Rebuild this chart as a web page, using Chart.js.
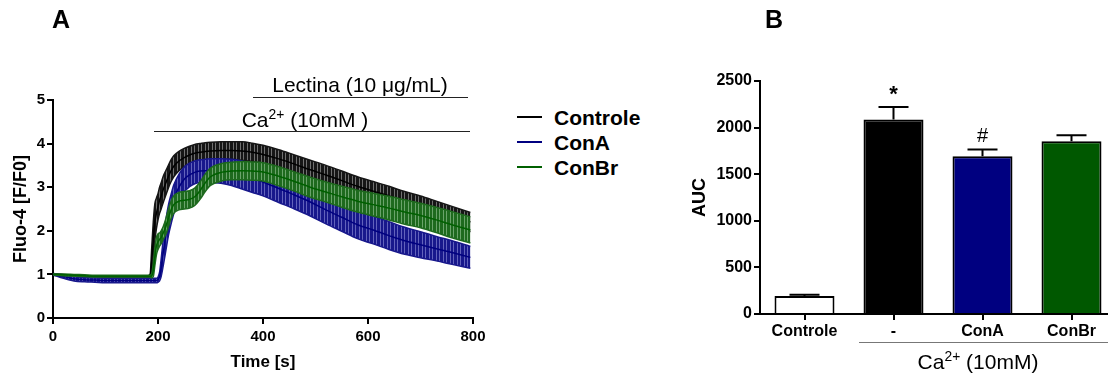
<!DOCTYPE html>
<html>
<head>
<meta charset="utf-8">
<script src="https://cdn.jsdelivr.net/npm/chart.js@4.4.1/dist/chart.umd.min.js"></script>
<style>
  html, body { margin:0; padding:0; background:#fff; }
  body { width:1108px; height:376px; overflow:hidden; position:relative;
         font-family:"Liberation Sans", Arial, sans-serif; color:#000; }
  .abs { position:absolute; white-space:nowrap; line-height:1; }
  .ctr { transform:translateX(-50%); }
  .rule { position:absolute; height:1px; }
  sup { font-size:0.66em; line-height:0; vertical-align:0.58em; }
  canvas { position:absolute; top:0; }
  .leg { position:absolute; left:517px; font-weight:bold; font-size:21px; line-height:1; white-space:nowrap; }
  .leg i { position:absolute; left:0; width:25px; height:2px; }
  .leg span { position:absolute; left:37px; top:0; }
</style>
</head>
<body>
<canvas id="fluoChart" width="500" height="376" style="left:0"></canvas>
<canvas id="aucChart" width="440" height="376" style="left:680px"></canvas>

<div class="abs" style="left:52px;top:7px;font-size:25px;font-weight:bold">A</div>
<div class="abs" style="left:765px;top:7px;font-size:25px;font-weight:bold">B</div>

<div class="abs ctr" style="left:360px;top:74px;font-size:21px">Lectina (10 &mu;g/mL)</div>
<div class="rule" style="left:253px;width:215px;top:97px;background:#222"></div>
<div class="abs ctr" style="left:305px;top:109px;font-size:21px">Ca<sup>2+</sup> (10mM )</div>
<div class="rule" style="left:154px;width:316px;top:131px;background:#222"></div>

<div id="legend"></div>

<div class="rule" style="left:859px;width:260px;top:342px;background:#777"></div>
<div class="abs ctr" style="left:978px;top:351px;font-size:21px">Ca<sup>2+</sup> (10mM)</div>

<script>
// Fluo-4 time course: sample times (s), mean F/F0 and SEM per group
const timeS = [0,20,40,60,80,100,120,140,160,180,
               185,188,191,194,197,200,203,206,210,215,
               220,225,230,240,250,260,270,280,290,300,
               320,340,360,380,400,430,460,490,520,550,
               580,610,640,670,700,730,760,795];

const controleMean = [1.00,0.98,0.96,0.95,0.94,0.94,0.94,0.94,0.94,0.94,
                      0.96,1.30,1.80,2.20,2.40,2.55,2.70,2.80,2.95,3.10,
                      3.25,3.38,3.48,3.60,3.68,3.74,3.78,3.80,3.82,3.83,
                      3.84,3.84,3.83,3.80,3.75,3.65,3.53,3.40,3.28,3.15,
                      3.02,2.91,2.80,2.68,2.58,2.46,2.34,2.20];
const controleSem  = [0.02,0.02,0.02,0.02,0.02,0.02,0.02,0.02,0.02,0.03,
                      0.05,0.30,0.40,0.42,0.35,0.30,0.30,0.30,0.30,0.28,
                      0.26,0.25,0.24,0.22,0.21,0.20,0.20,0.20,0.20,0.20,
                      0.20,0.20,0.21,0.21,0.21,0.21,0.21,0.22,0.22,0.22,
                      0.22,0.22,0.22,0.22,0.22,0.22,0.22,0.22];

const conAMean = [1.00,0.95,0.90,0.88,0.87,0.86,0.86,0.86,0.86,0.86,
                  0.86,0.86,0.86,0.86,0.86,0.88,0.95,1.15,1.50,1.90,
                  2.25,2.50,2.72,3.00,3.18,3.28,3.34,3.37,3.38,3.38,
                  3.37,3.34,3.28,3.20,3.12,2.97,2.82,2.66,2.48,2.31,
                  2.14,2.02,1.89,1.77,1.68,1.59,1.50,1.39];
const conASem  = [0.01,0.04,0.05,0.05,0.05,0.05,0.05,0.05,0.05,0.05,
                  0.05,0.05,0.05,0.05,0.05,0.06,0.10,0.20,0.30,0.35,
                  0.35,0.34,0.33,0.30,0.28,0.27,0.26,0.26,0.26,0.27,
                  0.28,0.30,0.32,0.32,0.32,0.32,0.32,0.32,0.32,0.32,
                  0.32,0.32,0.32,0.31,0.30,0.28,0.27,0.25];

const conBrMean = [1.00,0.99,0.98,0.97,0.96,0.96,0.96,0.96,0.96,0.96,
                   0.96,0.97,1.10,1.40,1.65,1.75,1.80,1.85,1.95,2.10,
                   2.30,2.48,2.60,2.68,2.70,2.72,2.78,2.92,3.10,3.24,
                   3.34,3.37,3.38,3.37,3.35,3.25,3.13,3.00,2.89,2.78,
                   2.68,2.60,2.52,2.43,2.35,2.25,2.14,2.02];
const conBrSem  = [0.01,0.02,0.02,0.02,0.02,0.02,0.02,0.02,0.02,0.02,
                   0.02,0.05,0.15,0.20,0.20,0.18,0.15,0.15,0.15,0.18,
                   0.20,0.20,0.20,0.20,0.20,0.20,0.20,0.20,0.20,0.20,
                   0.20,0.20,0.21,0.21,0.21,0.22,0.22,0.23,0.23,0.24,
                   0.25,0.26,0.27,0.28,0.28,0.29,0.30,0.30];

const groupLabels = ['Controle', 'ConA', 'ConBr'];
const groupMeans  = [controleMean, conAMean, conBrMean];
const groupSems   = [controleSem, conASem, conBrSem];
const groupColors = ['#000000', '#000080', '#006000'];
const bandBase    = ['#161616', '#18188c', '#1e6a1e'];
const bandStripe  = ['#707070', '#6262bc', '#6aa46a'];

// Area under the curve, Ca2+ 10 mM
const aucCategories = ['Controle', '-', 'ConA', 'ConBr'];
const aucMean   = [193, 2086, 1693, 1854];
const aucSem    = [14, 135, 72, 64];
const aucMarks  = ['', '*', '#', ''];
const aucColors = ['#ffffff', '#000000', '#000080', '#005800'];

const FONT = '"Liberation Sans", Arial, sans-serif';

function stripes(base, light) {
  const c = document.createElement('canvas');
  c.width = 7; c.height = 4;
  const g = c.getContext('2d');
  g.fillStyle = base; g.fillRect(0, 0, 7, 4);
  g.fillStyle = light; g.fillRect(2, 0, 1, 4); g.fillRect(5, 0, 1, 4);
  return g.createPattern(c, 'repeat');
}

function pts(values) { return timeS.map((t, i) => ({ x: t, y: values[i] })); }

// legend in the order of the groups
const legend = document.getElementById('legend');
const legendTops = [107, 132, 157];
groupLabels.forEach((lab, i) => {
  const d = document.createElement('div');
  d.className = 'leg';
  d.style.top = legendTops[i] + 'px';
  d.innerHTML = '<i style="top:9px;background:' + groupColors[i] + '"></i><span>' + lab + '</span>';
  legend.appendChild(d);
});

// datasets: last group first so it is painted on top
const fluoSets = [];
for (let g = groupLabels.length - 1; g >= 0; g--) {
  const m = groupMeans[g], s = groupSems[g];
  const lo = m.map((v, i) => v - s[i]);
  const hi = m.map((v, i) => v + s[i]);
  const common = { pointRadius: 0, cubicInterpolationMode: 'monotone', borderWidth: 1.5 };
  fluoSets.push(Object.assign({ label: groupLabels[g], data: pts(m), borderColor: groupColors[g], fill: false }, common));
  fluoSets.push(Object.assign({ label: groupLabels[g] + ' -SEM', data: pts(lo), borderColor: bandBase[g], fill: false }, common));
  fluoSets.push(Object.assign({ label: groupLabels[g] + ' +SEM', data: pts(hi), borderColor: bandBase[g],
                                backgroundColor: stripes(bandBase[g], bandStripe[g]), fill: '-1' }, common));
}

const axisCommon = {
  border: { color: '#000', width: 2 },
  grid: { drawOnChartArea: false, tickLength: 6, color: '#000', lineWidth: 2 },
};

new Chart(document.getElementById('fluoChart'), {
  type: 'line',
  data: { datasets: fluoSets },
  options: {
    responsive: false, animation: false, devicePixelRatio: 1,
    layout: { padding: { left: 0, top: 100, right: 27, bottom: 0 } },
    plugins: { legend: { display: false }, tooltip: { enabled: false } },
    scales: {
      x: Object.assign({}, axisCommon, {
        type: 'linear', min: 0, max: 800,
        afterFit(s) { s.height = 58; },
        ticks: { stepSize: 200, color: '#000', padding: 4, maxRotation: 0,
                 font: { family: FONT, size: 15, weight: 'bold' } },
        title: { display: true, text: 'Time [s]', color: '#000',
                 font: { family: FONT, size: 17, weight: 'bold' }, padding: { top: 0, bottom: 3 } }
      }),
      y: Object.assign({}, axisCommon, {
        min: 0, max: 5,
        afterFit(s) { s.width = 53; },
        ticks: { stepSize: 1, color: '#000', padding: 2,
                 font: { family: FONT, size: 15, weight: 'bold' } },
        title: { display: true, text: 'Fluo-4 [F/F0]', color: '#000',
                 font: { family: FONT, size: 18, weight: 'bold' }, padding: { top: 10, bottom: 0 } }
      })
    }
  }
});

// SEM whiskers and significance marks over the bars
const aucErrors = {
  id: 'aucErrors',
  afterDatasetsDraw(chart) {
    const meta = chart.getDatasetMeta(0);
    const y = chart.scales.y;
    const ctx = chart.ctx;
    ctx.save();
    ctx.strokeStyle = '#000';
    ctx.lineWidth = 2;
    meta.data.forEach((bar, i) => {
      const top = y.getPixelForValue(aucMean[i]);
      const cap = y.getPixelForValue(aucMean[i] + aucSem[i]);
      ctx.beginPath();
      ctx.moveTo(bar.x, top); ctx.lineTo(bar.x, cap);
      ctx.moveTo(bar.x - 15, cap); ctx.lineTo(bar.x + 15, cap);
      ctx.stroke();
      if (aucMarks[i]) {
        ctx.fillStyle = '#000';
        ctx.textAlign = 'center';
        ctx.textBaseline = 'alphabetic';
        if (aucMarks[i] === '*') {
          ctx.font = 'bold 22px ' + FONT;
          ctx.fillText('*', bar.x, cap - 6);
        } else {
          ctx.font = '20px ' + FONT;
          ctx.fillText(aucMarks[i], bar.x, cap - 8);
        }
      }
    });
    ctx.restore();
  }
};

new Chart(document.getElementById('aucChart'), {
  type: 'bar',
  data: {
    labels: aucCategories,
    datasets: [{
      data: aucMean, backgroundColor: aucColors, borderColor: '#000', borderWidth: 2,
      borderSkipped: 'start', categoryPercentage: 1, barPercentage: 0.674
    }]
  },
  options: {
    responsive: false, animation: false, devicePixelRatio: 1,
    layout: { padding: { left: 0, top: 81, right: 4, bottom: 0 } },
    plugins: { legend: { display: false }, tooltip: { enabled: false } },
    scales: {
      x: Object.assign({}, axisCommon, {
        type: 'category', offset: true,
        grid: { drawOnChartArea: false, tickLength: 6, color: '#000', lineWidth: 2, offset: false },
        afterFit(s) { s.height = 62; },
        ticks: { color: '#000', padding: 2, maxRotation: 0,
                 font: { family: FONT, size: 16, weight: 'bold' } }
      }),
      y: Object.assign({}, axisCommon, {
        min: 0, max: 2500,
        afterFit(s) { s.width = 80; },
        ticks: { stepSize: 500, color: '#000', padding: 2, callback: v => String(v),
                 font: { family: FONT, size: 16, weight: 'bold' } },
        title: { display: true, text: 'AUC', color: '#000',
                 font: { family: FONT, size: 18, weight: 'bold' }, padding: { top: 9, bottom: 0 } }
      })
    }
  },
  plugins: [aucErrors]
});
</script>
</body>
</html>
